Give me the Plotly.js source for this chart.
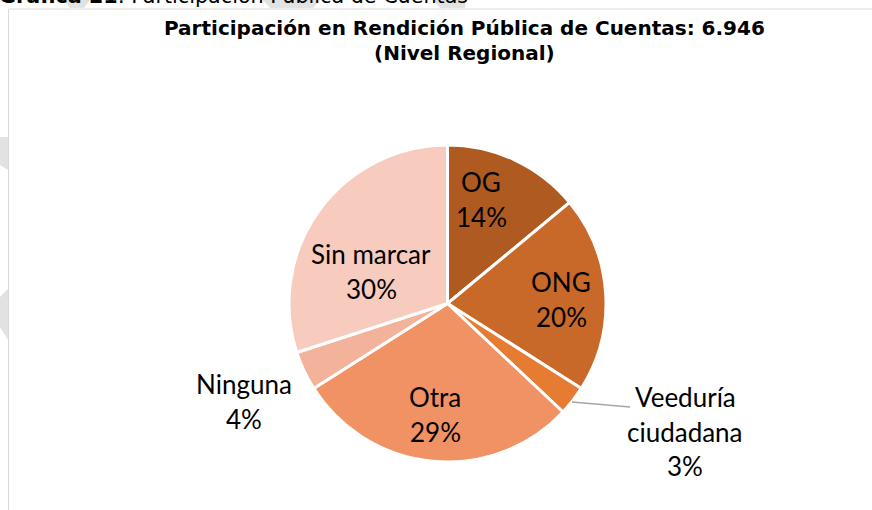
<!DOCTYPE html>
<html><head><meta charset="utf-8">
<script src="https://cdn.plot.ly/plotly-3.0.1.min.js"></script>
<style>html,body{margin:0;padding:0;background:#fff;overflow:hidden;} #chart{width:872px;height:510px;}</style>
</head><body><div id="chart"></div>
<script>
// ---- data ----
const categories = ["OG", "ONG", "Veeduría ciudadana", "Otra", "Ninguna", "Sin marcar"];
const values = [14, 20, 3, 29, 4, 30];
const percentLabels = ["14%", "20%", "3%", "29%", "4%", "30%"];
const sliceColors = ["#AE5A21", "#C8692A", "#E57C32", "#F09264", "#F3B39A", "#F7CBBE"];
const chartTitle = "Participación en Rendición Pública de Cuentas: 6.946";
const chartSubtitle = "(Nivel Regional)";
const headerBold = "Gráfica 21";
const headerRest = ": Participación Pública de Cuentas";

// ---- layout helpers (pixels -> paper) ----
const W = 872, H = 510;
const px = x => x / W;
const py = y => 1 - y / H;

// label placement (pixel centres of first line), kept separate from data
const labelPos = [
  {x: 481, y: 183}, {x: 561, y: 283}, {x: 685, y: 398},
  {x: 435, y: 398}, {x: 244, y: 385}, {x: 371, y: 255}
];
const lineGap = 34.5;
const labelFont = {family: "Lato, 'Open Sans', sans-serif", size: 26, color: "#000"};

const annotations = [];
categories.forEach((c, i) => {
  const lines = (c === "Veeduría ciudadana" ? c.split(" ") : [c]).concat([percentLabels[i]]);
  lines.forEach((t, k) => {
    annotations.push({
      text: t, showarrow: false, xref: "paper", yref: "paper",
      x: px(labelPos[i].x), y: py(labelPos[i].y - 1 + k * lineGap),
      xanchor: "center", yanchor: "middle", font: labelFont
    });
  });
});
const titleFont = {family: "'DejaVu Sans', sans-serif", size: 20, color: "#000"};
// chart title, two lines
[chartTitle, chartSubtitle].forEach((t, k) => {
  annotations.push({
    text: "<b>" + t + "</b>", showarrow: false, xref: "paper", yref: "paper",
    x: px(464), y: py(27.5 + k * 25.5), xanchor: "center", yanchor: "middle", font: titleFont
  });
});
// top header (partially cut off)
annotations.push({
  text: "<b>" + headerBold + "</b>" + headerRest, showarrow: false,
  xref: "paper", yref: "paper", x: px(-3), y: py(-4), xanchor: "left", yanchor: "middle",
  font: {family: "'DejaVu Sans', sans-serif", size: 20.7, color: "#000"}
});

const gray = "#D9D9D9", wm = "#E2E2E2";
const P = (pts) => "M" + pts.map(p => px(p[0]) + "," + py(p[1])).join(" L") + " Z";
const shapes = [
  // watermark fragments
  {type: "path", xref: "paper", yref: "paper", path: P([[0,137],[8,137],[8,170],[0,165]]), fillcolor: wm, line: {width: 0}, layer: "below"},
  {type: "path", xref: "paper", yref: "paper", path: P([[0,297],[8,289],[8,340],[0,327]]), fillcolor: wm, line: {width: 0}, layer: "below"},
  {type: "path", xref: "paper", yref: "paper", path: P([[64,0],[90,0],[84,8],[70,8]]), fillcolor: wm, line: {width: 0}, layer: "below"},
  {type: "path", xref: "paper", yref: "paper", path: P([[263,0],[320,0],[313,8],[270,8]]), fillcolor: wm, line: {width: 0}, layer: "below"},
  {type: "path", xref: "paper", yref: "paper", path: P([[433,0],[465,0],[465,8],[440,8]]), fillcolor: wm, line: {width: 0}, layer: "below"},
  // chart frame
  {type: "line", xref: "paper", yref: "paper", x0: px(8.5), x1: px(8.5), y0: py(9), y1: py(512), line: {color: gray, width: 1}},
  {type: "line", xref: "paper", yref: "paper", x0: px(8.5), x1: px(874), y0: py(9), y1: py(9), line: {color: gray, width: 1}},
  // leader line for small slice
  {type: "line", xref: "paper", yref: "paper", x0: px(572), x1: px(630), y0: py(402), y1: py(407), line: {color: "#A6A6A6", width: 1.5}, layer: "above"}
];

const trace = {
  type: "pie",
  labels: categories,
  values: values,
  sort: false,
  direction: "clockwise",
  rotation: 0,
  textinfo: "none",
  hoverinfo: "label+percent",
  marker: {colors: sliceColors, line: {color: "#FFFFFF", width: 3}},
  domain: {x: [px(289), px(606)], y: [py(462), py(145)]},
  showlegend: false
};

const layout = {
  width: W, height: H,
  margin: {l: 0, r: 0, t: 0, b: 0},
  paper_bgcolor: "#FFFFFF",
  shapes: shapes,
  annotations: annotations
};

Plotly.newPlot("chart", [trace], layout, {displayModeBar: false, staticPlot: true});
</script>
</body></html>
